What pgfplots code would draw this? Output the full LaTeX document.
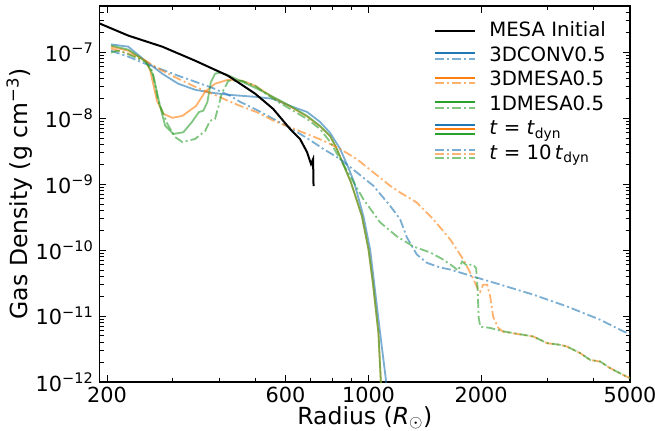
\documentclass[border=0pt]{standalone}
\usepackage{fontspec}
\setmainfont{DejaVu Sans}
\usepackage{pgfplots}
\pgfplotsset{compat=1.18}
\definecolor{tabblue}{RGB}{31,119,180}
\definecolor{taborange}{RGB}{255,127,14}
\definecolor{tabgreen}{RGB}{44,160,44}
\newcommand{\fl}{\fontsize{23.5bp}{27bp}\selectfont}
\newcommand{\ft}{\fontsize{20.8bp}{24bp}\selectfont}
\newcommand{\fg}{\fontsize{19.7bp}{23bp}\selectfont}
\tikzset{dd/.style={dash pattern=on 9bp off 3bp on 2bp off 3bp}}
\begin{document}
\begin{tikzpicture}
\begin{axis}[
 xmode=log, ymode=log,
 scale only axis, width=530.5bp, height=376bp,
 xmin=191, xmax=5000, ymin=1e-12, ymax=5e-7,
 xtick={200,600,1000,2000,5000},
 xticklabels={200,600,1000,2000,5000},
 minor xtick={300,400,500,700,800,900,3000,4000},
 ytick={1e-12,1e-11,1e-10,1e-9,1e-8,1e-7},
 yticklabels={10\textsuperscript{−12},10\textsuperscript{−11},10\textsuperscript{−10},10\textsuperscript{−9},10\textsuperscript{−8},10\textsuperscript{−7}},
 minor ytick={2e-12,3e-12,4e-12,5e-12,6e-12,7e-12,8e-12,9e-12,
   2e-11,3e-11,4e-11,5e-11,6e-11,7e-11,8e-11,9e-11,
   2e-10,3e-10,4e-10,5e-10,6e-10,7e-10,8e-10,9e-10,
   2e-9,3e-9,4e-9,5e-9,6e-9,7e-9,8e-9,9e-9,
   2e-8,3e-8,4e-8,5e-8,6e-8,7e-8,8e-8,9e-8,
   2e-7,3e-7,4e-7},
 tick align=inside,
 major tick length=7bp, minor tick length=4bp,
 every tick/.style={black, line width=0.8bp},
 axis line style={line width=1.2bp},
 tick label style={font=\ft},
 xticklabel style={inner sep=0bp, yshift=-5bp},
 yticklabel style={inner sep=0bp, xshift=-6bp},
 xlabel={Radius (\textit{R}\textsubscript{$\odot$})},
 ylabel={Gas Density (g cm\textsuperscript{−3})},
 label style={font=\fl},
 xlabel style={at={(rel axis cs:0.5,0)}, anchor=base, yshift=-42bp},
 ylabel style={at={([xshift=-72bp]rel axis cs:0,0.5)}, anchor=base},
 legend style={draw=none, fill=none, at={(1,1)}, anchor=north east, xshift=-20bp, yshift=-13bp,
   font=\fg, row sep=4bp, column sep=12bp,
   nodes={inner sep=1bp, text height=14.5bp, text depth=4bp}},
 legend cell align=left,
]
\coordinate (bl) at (rel axis cs:0,0);
\coordinate (tr) at (rel axis cs:1,1);

% 3DCONV0.5 t = t_dyn
\addplot[tabblue, opacity=0.6, line width=1.8bp, forget plot] coordinates {
(205,1.31e-7) (228,1.21e-7) (253,7.42e-8) (281,4.71e-8) (310,3.32e-8) (344,2.69e-8)
(382,2.42e-8) (421,2.26e-8) (498,2.10e-8) (556,1.96e-8) (617,1.53e-8) (685,1.24e-8)
(742,8.76e-9) (790,5.95e-9) (840,3.40e-9) (882,1.81e-9) (915,1.07e-9) (969,3.28e-10)
(1010,1.02e-10) (1035,3.21e-11) (1074,5.57e-12) (1115,1.0e-12) (1125,5e-13)};
% 3DMESA0.5 t = t_dyn
\addplot[taborange, opacity=0.6, line width=1.8bp, forget plot] coordinates {
(205,1.21e-7) (228,1.05e-7) (253,7.42e-8) (261,5.23e-8) (272,1.83e-8) (283,1.16e-8)
(299,1.01e-8) (318,1.08e-8) (346,1.53e-8) (366,2.51e-8) (389,3.32e-8) (422,3.82e-8)
(459,3.68e-8) (498,3.09e-8) (556,2.05e-8) (617,1.50e-8) (685,1.06e-8) (742,7.5e-9)
(790,5.3e-9) (823,3.4e-9) (897,1.07e-9) (960,3.28e-10) (1000,1.02e-10) (1027,3.21e-11)
(1063,5.57e-12) (1079,1e-12) (1085,5e-13)};
% 1DMESA0.5 t = t_dyn
\addplot[tabgreen, opacity=0.6, line width=1.8bp, forget plot] coordinates {
(205,1.26e-7) (228,1.09e-7) (255,7.09e-8) (266,4.44e-8) (277,1.55e-8) (286,7.69e-9)
(301,5.75e-9) (320,6.10e-9) (337,8.66e-9) (352,1.23e-8) (362,1.30e-8) (371,1.75e-8)
(379,3.52e-8) (389,4.71e-8) (401,4.88e-8) (418,4.55e-8) (454,3.68e-8) (504,2.78e-8)
(556,2.10e-8) (617,1.53e-8) (685,1.08e-8) (742,7.61e-9) (790,5.36e-9) (823,3.40e-9)
(897,1.07e-9) (960,3.28e-10) (1000,1.02e-10) (1027,3.21e-11) (1063,5.57e-12)
(1079,1.0e-12) (1085,5e-13)};
% 3DCONV0.5 t = 10 t_dyn
\addplot[tabblue, opacity=0.6, line width=1.8bp, dd, forget plot] coordinates {
(205,1.05e-7) (228,8.54e-8) (253,6.68e-8) (281,5.42e-8) (310,4.39e-8) (344,3.56e-8)
(382,2.88e-8) (427,2.18e-8) (454,1.76e-8) (503,1.33e-8) (557,9.72e-9) (617,7.09e-9)
(684,5.00e-9) (758,3.40e-9) (840,2.39e-9) (931,1.50e-9) (1031,9.39e-10) (1143,4.66e-10)
(1215,2.92e-10) (1266,1.56e-10) (1346,8.57e-11) (1432,6.41e-11) (1554,5.44e-11)
(1653,5.07e-11) (1940,3.85e-11) (2249,3.00e-11) (2756,2.11e-11) (3391,1.40e-11)
(4163,8.78e-12) (4804,5.83e-12) (5000,5.38e-12)};
% 3DMESA0.5 t = 10 t_dyn
\addplot[taborange, opacity=0.6, line width=1.8bp, dd, forget plot] coordinates {
(205,1.13e-7) (228,9.49e-8) (253,7.42e-8) (281,5.23e-8) (310,3.95e-8) (344,2.99e-8)
(382,2.34e-8) (421,1.83e-8) (454,1.53e-8) (503,1.23e-8) (557,9.16e-9) (617,7.27e-9)
(684,5.75e-9) (758,4.55e-9) (840,3.40e-9) (931,2.39e-9) (1031,1.50e-9) (1143,9.39e-10)
(1215,7.45e-10) (1346,5.25e-10) (1491,2.92e-10) (1653,1.45e-10) (1793,7.19e-11)
(1893,3.97e-11) (1964,2.51e-11) (1988,2.34e-11) (2025,2.99e-11) (2076,2.99e-11)
(2115,1.97e-11) (2154,9.76e-12) (2221,6.64e-12) (2291,5.77e-12) (2761,4.89e-12)
(2998,3.88e-12) (3254,3.66e-12) (3391,3.45e-12) (3680,2.74e-12) (3914,2.16e-12)
(4163,2.04e-12) (4427,1.62e-12) (4906,1.20e-12) (5000,1.15e-12)};
% 1DMESA0.5 t = 10 t_dyn
\addplot[tabgreen, opacity=0.6, line width=1.8bp, dd, forget plot] coordinates {
(205,9.83e-8) (213,1.05e-7) (223,9.83e-8) (253,7.17e-8) (264,5.23e-8) (274,1.83e-8)
(290,8.16e-9) (304,5.17e-9) (318,4.34e-9) (344,4.83e-9) (366,6.39e-9) (377,9.07e-9)
(389,9.72e-9) (397,1.48e-8) (405,2.34e-8) (422,3.68e-8) (459,3.68e-8) (498,3.09e-8)
(556,1.96e-8) (617,1.38e-8) (685,9.72e-9) (742,6.85e-9) (790,4.34e-9) (840,2.39e-9)
(893,1.32e-9) (969,5.89e-10) (1074,2.63e-10) (1191,1.61e-10) (1319,1.13e-10)
(1462,9.19e-11) (1583,7.19e-11) (1684,5.63e-11) (1736,4.9e-11) (1779,6.7e-11)
(1835,5.8e-11) (1870,6.0e-11) (1905,6.0e-11) (1940,5.3e-11) (1958,2.5e-11)
(1970,9.5e-12) (1990,6.9e-12) (2115,6.6e-12) (2277,5.9e-12) (2761,4.89e-12)
(2998,3.88e-12) (3254,3.66e-12) (3391,3.45e-12) (3680,2.74e-12) (3914,2.16e-12)
(4163,2.04e-12) (4427,1.62e-12) (4906,1.20e-12) (5000,1.15e-12)};
% MESA Initial
\addplot[black, line width=2bp, forget plot] coordinates {
(191,2.72e-7) (228,1.78e-7) (281,1.21e-7) (344,7.42e-8) (421,4.39e-8) (454,3.32e-8)
(498,2.34e-8) (556,1.38e-8) (617,6.85e-9) (656,4.83e-9) (685,3.06e-9) (702,2.01e-9)
(711,2.39e-9) (713,9.3e-10)};

\addlegendimage{legend image code/.code={\draw[black, line width=2bp] (0bp,0bp) -- (40bp,0bp);}}
\addlegendentry{MESA Initial}
\addlegendimage{legend image code/.code={
  \draw[tabblue, line width=2bp] (0bp,2.8bp) -- (40bp,2.8bp);
  \draw[tabblue, opacity=0.6, line width=1.6bp, dd] (0bp,-2.8bp) -- (40bp,-2.8bp);}}
\addlegendentry{3DCONV0.5}
\addlegendimage{legend image code/.code={
  \draw[taborange, line width=2bp] (0bp,2.8bp) -- (40bp,2.8bp);
  \draw[taborange, opacity=0.6, line width=1.6bp, dd] (0bp,-2.8bp) -- (40bp,-2.8bp);}}
\addlegendentry{3DMESA0.5}
\addlegendimage{legend image code/.code={
  \draw[tabgreen, line width=2bp] (0bp,2.8bp) -- (40bp,2.8bp);
  \draw[tabgreen, opacity=0.6, line width=1.6bp, dd] (0bp,-2.8bp) -- (40bp,-2.8bp);}}
\addlegendentry{1DMESA0.5}
\addlegendimage{legend image code/.code={
  \draw[tabblue, line width=2bp] (0bp,4.2bp) -- (40bp,4.2bp);
  \draw[taborange, line width=2bp] (0bp,0bp) -- (40bp,0bp);
  \draw[tabgreen, line width=2bp] (0bp,-4.2bp) -- (40bp,-4.2bp);}}
\addlegendentry{\textit{t} = \textit{t}\textsubscript{dyn}}
\addlegendimage{legend image code/.code={
  \draw[tabblue, opacity=0.6, line width=1.6bp, dd] (0bp,4.2bp) -- (40bp,4.2bp);
  \draw[taborange, opacity=0.6, line width=1.6bp, dd] (0bp,0bp) -- (40bp,0bp);
  \draw[tabgreen, opacity=0.6, line width=1.6bp, dd] (0bp,-4.2bp) -- (40bp,-4.2bp);}}
\addlegendentry{\textit{t} = 10\,\textit{t}\textsubscript{dyn}}
\end{axis}
\pgfresetboundingbox
\path[use as bounding box] ([shift={(-99.5bp,-49bp)}]bl) rectangle ([shift={(25bp,6bp)}]tr);
\end{tikzpicture}
\end{document}
